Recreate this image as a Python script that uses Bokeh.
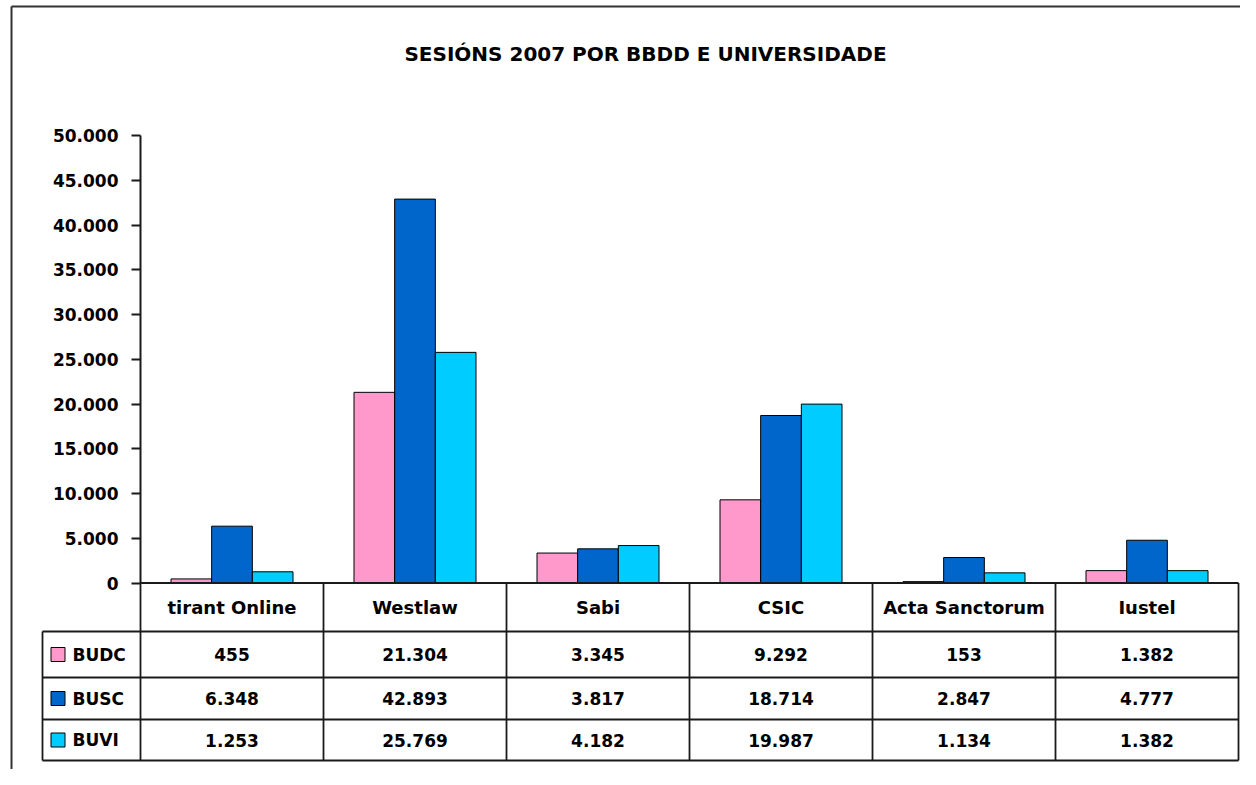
from bokeh.plotting import figure
from bokeh.models import LinearAxis, FixedTicker, Range1d
from bokeh.embed import file_html
from bokeh.resources import INLINE
from bokeh.core.properties import value

# ---------------- data ----------------
categories = ["tirant Online", "Westlaw", "Sabi", "CSIC", "Acta Sanctorum", "Iustel"]
series_names = ["BUDC", "BUSC", "BUVI"]
budc = [455, 21304, 3345, 9292, 153, 1382]
busc = [6348, 42893, 3817, 18714, 2847, 4777]
buvi = [1253, 25769, 4182, 19987, 1134, 1382]
y_ticks = [0, 5000, 10000, 15000, 20000, 25000, 30000, 35000, 40000, 45000, 50000]
title_text = "SESIÓNS 2007 POR BBDD E UNIVERSIDADE"
series_colors = ["#FF99CC", "#0066CC", "#00CCFF"]

series_values = [budc, busc, buvi]


def fmt(v):
    return f"{v:,}".replace(",", ".")


# ---------------- layout (pixels inside the figure) ----------------
W, H = 1240, 769
AX_X = 140.0      # y axis / table start
RIGHT = 1238.0    # table right edge
LEG_X = 42.0      # legend column left edge
Y0 = 582.5        # value 0
Y50 = 135.0       # value 50000
HDR_B = 631.0     # header row bottom
R1 = 677.0
R2 = 719.0
BOT = 760.0

n = len(categories)
CAT_W = (RIGHT - AX_X) / n
UNIT = y_ticks[-1] / (Y0 - Y50)


def x_of(px):
    return (px - AX_X) / CAT_W


def y_of(py):
    return (Y0 - py) * UNIT


FONT = "DejaVu Sans"
LINE_C = "#1a1a1a"

p = figure(width=W, height=H, output_backend="svg", toolbar_location=None,
           x_range=Range1d(x_of(0), x_of(W)), y_range=Range1d(y_of(H), y_of(0)),
           x_axis_location=None, y_axis_location=None,
           min_border=0, min_border_left=0, min_border_right=0,
           min_border_top=0, min_border_bottom=0)
p.outline_line_color = None
p.grid.visible = False
p.background_fill_color = "white"
p.border_fill_color = "white"

# outer chart border (left and top visible)
p.segment(x0=[x_of(11), x_of(11)], y0=[y_of(6), y_of(6)],
          x1=[x_of(11), x_of(W)], y1=[y_of(H), y_of(6)],
          line_color="#333333", line_width=2)

# title
p.text(x=[x_of(645)], y=[y_of(53)], text=[title_text],
       text_font=value(FONT), text_font_style="bold", text_font_size="20px",
       text_align="center", text_baseline="middle", text_color="black")

# bars
bw = 1.0 / 4.5
for s, vals in enumerate(series_values):
    xs = [i + 0.5 + (s - 1) * bw for i in range(n)]
    p.vbar(x=xs, top=vals, bottom=0, width=bw,
           fill_color=series_colors[s], line_color="black", line_width=1)

# y axis
yaxis = LinearAxis(fixed_location=0, bounds=(y_ticks[0], y_ticks[-1]),
                   ticker=FixedTicker(ticks=y_ticks),
                   major_label_overrides={t: fmt(t) for t in y_ticks})
yaxis.major_tick_out = 9
yaxis.major_tick_in = 0
yaxis.minor_tick_line_color = None
yaxis.axis_line_width = 2
yaxis.axis_line_color = LINE_C
yaxis.major_tick_line_width = 2
yaxis.major_tick_line_color = LINE_C
yaxis.major_label_text_font = FONT
yaxis.major_label_text_font_style = "bold"
yaxis.major_label_text_font_size = "17px"
yaxis.major_label_text_color = "black"
yaxis.major_label_standoff = 13
p.add_layout(yaxis, "left")

# data table grid
yb = y_of(BOT)
hx0, hy0, hx1, hy1 = [], [], [], []
hx0.append(0); hy0.append(0); hx1.append(n); hy1.append(0)
for py in (HDR_B, R1, R2, BOT):
    hx0.append(x_of(LEG_X)); hy0.append(y_of(py)); hx1.append(n); hy1.append(y_of(py))
for i in range(n + 1):
    hx0.append(i); hy0.append(0); hx1.append(i); hy1.append(yb)
hx0.append(x_of(LEG_X)); hy0.append(y_of(HDR_B)); hx1.append(x_of(LEG_X)); hy1.append(yb)
p.segment(x0=hx0, y0=hy0, x1=hx1, y1=hy1, line_color=LINE_C, line_width=1.8)

# header texts
hdr_y = y_of((Y0 + HDR_B) / 2)
p.text(x=[i + 0.5 for i in range(n)], y=[hdr_y] * n, text=categories,
       text_font=value(FONT), text_font_style="bold", text_font_size="18px",
       text_align="center", text_baseline="middle", text_color="black")

# rows
row_bounds = [(HDR_B, R1), (R1, R2), (R2, BOT)]
for s, (top_px, bot_px) in enumerate(row_bounds):
    ry = y_of((top_px + bot_px) / 2)
    p.text(x=[i + 0.5 for i in range(n)], y=[ry] * n,
           text=[fmt(v) for v in series_values[s]],
           text_font=value(FONT), text_font_style="bold", text_font_size="17px",
           text_align="center", text_baseline="middle", text_color="black")
    p.rect(x=[x_of(57.5)], y=[ry], width=14, height=14,
           width_units="screen", height_units="screen",
           fill_color=series_colors[s], line_color="black", line_width=1)
    p.text(x=[x_of(72)], y=[ry], text=[series_names[s]],
           text_font=value(FONT), text_font_style="bold", text_font_size="17px",
           text_align="left", text_baseline="middle", text_color="black")

open("out.html", "w").write(file_html(p, INLINE))
